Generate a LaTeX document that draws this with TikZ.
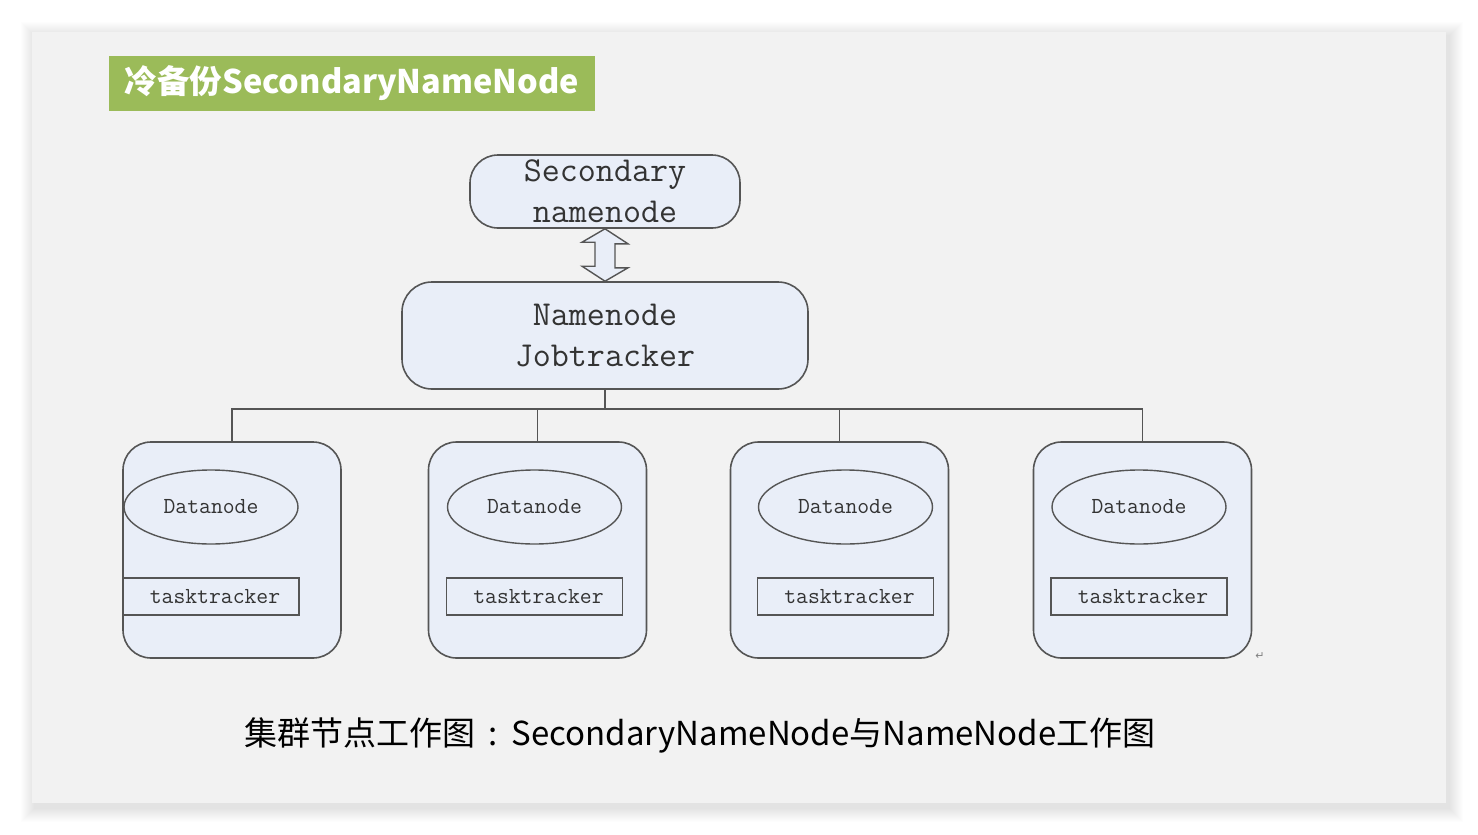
\documentclass[tikz,border=0pt]{standalone}
\usepackage{fontspec}
\newfontfamily\cjk{Noto Sans CJK SC}
\newfontfamily\symfont{DejaVu Sans}
\usetikzlibrary{shapes.geometric,calc}
\definecolor{slidegray}{HTML}{F2F2F2}
\definecolor{titlegreen}{HTML}{9BBB59}
\definecolor{boxfill}{HTML}{E9EEF8}
\definecolor{linegray}{HTML}{555555}
\definecolor{textgray}{HTML}{333333}

\begin{document}
\begin{tikzpicture}[x=1pt, y=-1pt,
    bigbox/.style={draw=linegray, line width=1.6pt, fill=boxfill, align=center,
        text=textgray, font=\ttfamily\fontsize{35}{41}\selectfont, inner sep=0pt},
    workerbox/.style={draw=linegray, line width=1.6pt, fill=boxfill, rounded corners=28pt,
        minimum width=218pt, minimum height=216pt, inner sep=0pt},
    dataell/.style={ellipse, draw=linegray, line width=1.4pt, fill=boxfill,
        minimum width=174pt, minimum height=74pt, inner sep=0pt, text=textgray,
        font=\ttfamily\fontsize{23}{26}\selectfont},
    taskbox/.style={draw=linegray, line width=1.4pt, fill=boxfill,
        minimum width=176pt, minimum height=37pt, inner sep=0pt, text=textgray,
        font=\ttfamily\fontsize{23}{26}\selectfont},
    wire/.style={draw=linegray, line width=1.4pt},
    arrowshape/.style={draw=linegray, line width=1.4pt, fill=boxfill, line join=miter}]
    \useasboundingbox (0,0) rectangle (1478,835);
    \fill[white] (0,0) rectangle (1478,835);

    % slide and its shadow
    \foreach \s in {1,...,14}
        \fill[black, opacity=0.008] (32-\s+3,32-\s+4) rectangle (1446+\s+3,803+\s+5);
    \fill[slidegray] (32,32) rectangle (1446,803);

    % title
    \node[fill=titlegreen, minimum width=486pt, minimum height=55pt, inner sep=0pt,
        text=white, font=\cjk\bfseries\fontsize{32.5}{34}\selectfont] (title) at (352,83.5)
        {冷备份SecondaryNameNode};

    % master nodes
    \node[bigbox, rounded corners=28pt, minimum width=270pt, minimum height=73pt] (snn) at (605,191.5)
        {Secondary\\namenode};
    \node[bigbox, rounded corners=30pt, minimum width=406pt, minimum height=107pt] (nn) at (605,335.5)
        {Namenode\\Jobtracker};

    % hollow double arrow
    \draw[arrowshape] (snn.south) -- ++(23,15) -- ++(-13,0) -- ++(0,24) -- ++(13,0)
        -- (nn.north) -- ++(-23,-15) -- ++(13,0) -- ++(0,-24) -- ++(-13,0) -- cycle;

    % worker nodes
    \foreach \i/\cx/\dx in {1/232/-21, 2/537.5/-3, 3/839.5/6, 4/1142.5/-3.5} {
        \node[workerbox] (w\i) at (\cx,550) {};
        \node[dataell] (dn\i) at (\cx+\dx,507) {Datanode};
        \node[taskbox] (tt\i) at (\cx+\dx,596.5) {\hspace{8pt}tasktracker};
    }

    % connectors
    \coordinate (bus) at ($(nn.south)+(0,19)$);
    \draw[wire] (nn.south) -- (bus);
    \draw[wire] (w1.north) |- (w4.north |- bus) -- (w4.north);
    \draw[wire] (w2.north) -- (w2.north |- bus);
    \draw[wire] (w3.north) -- (w3.north |- bus);

    \node[text=gray, font=\symfont\fontsize{11}{12}\selectfont] (pmark) at (1260,656) {↵};

    % caption
    \node[text=black, font=\cjk\fontsize{33}{36}\selectfont] (caption) at (700,735)
        {集群节点工作图\makebox[1.1em]{:}SecondaryNameNode与NameNode工作图};
\end{tikzpicture}
\end{document}
